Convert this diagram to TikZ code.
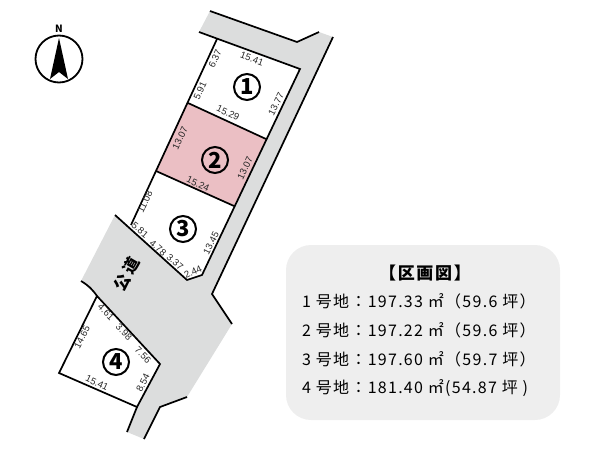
\documentclass[tikz,border=0pt]{standalone}
\usepackage{fontspec}
\setmainfont{Noto Sans CJK JP}
\newfontfamily\dimfont{Liberation Sans}
\definecolor{roadgray}{HTML}{DCDDDD}
\definecolor{lotpink}{HTML}{EBBFC4}
\definecolor{panelgray}{HTML}{EEEEEE}
\tikzset{
  dimlabel/.style={font=\dimfont\fontsize{9.5}{10}\selectfont,inner sep=0pt,text=black!85},
  lotnumber/.style={draw,circle,line width=2pt,minimum size=26pt,inner sep=0pt,font=\fontsize{22}{23}\selectfont\bfseries},
  areatext/.style={anchor=west,inner sep=0pt,font=\fontsize{16}{18}\selectfont\addfontfeature{LetterSpace=8}},
  boundary/.style={draw,line width=1.7pt}
}
\begin{document}
\begin{tikzpicture}[x=1pt,y=-1pt]
\useasboundingbox (0,0) rectangle (600,450);

\coordinate (r1) at (210,11);
\coordinate (r2) at (297,42);
\coordinate (r3) at (319,32);
\coordinate (r4) at (333,37);
\coordinate (r5) at (212,294);
\coordinate (r6) at (232,324);
\coordinate (r7) at (187,397);
\coordinate (r8) at (160,407);
\coordinate (r9) at (144,439);
\coordinate (r10) at (127,432);
\coordinate (r11) at (81,281);
\coordinate (r12) at (115,215);
\coordinate (r13) at (199,32);

\coordinate (a) at (217,39);
\coordinate (b) at (300,69);
\coordinate (c) at (266,139);
\coordinate (d) at (188,103);
\coordinate (e) at (234,206);
\coordinate (f) at (156,171);
\coordinate (g) at (202,275);
\coordinate (h) at (187,280);
\coordinate (i) at (131,225);
\coordinate (j) at (97,296);
\coordinate (k) at (160,364);
\coordinate (l) at (137,407);
\coordinate (m) at (59,373);

\path[fill=roadgray] (r1) -- (r2) -- (r3) -- (r4) -- (r5) -- (r6) -- (r7) -- (r8) -- (r9) -- (r10) -- (l) -- (k) -- (j) -- (r11) -- (r12) -- (h) -- (g) -- (b) -- (r13) -- cycle;
\path[fill=lotpink] (d) -- (c) -- (e) -- (f) -- cycle;

\path[boundary] (r1) -- (r2) -- (r3);
\path[boundary] (r4) -- (r5) -- (r6);
\path[boundary] (r7) -- (r8) -- (r9);
\path[boundary] (r10) -- (l);
\path[boundary] (r13) -- (b) -- (g) -- (h) -- (r12);
\path[boundary] (a) -- (i);
\path[boundary] (d) -- (c);
\path[boundary] (f) -- (e);
\path[boundary] (r11) to[bend left=12] (j);
\path[boundary] (j) -- (k) -- (l) -- (m) -- cycle;

\node[lotnumber] (lot1) at (247,87) {1};
\node[lotnumber] (lot2) at (215,160) {2};
\node[lotnumber] (lot3) at (183,229) {3};
\node[lotnumber] (lot4) at (116,362) {4};

\node[dimlabel,rotate=-20] (d1) at (252,59) {15.41};
\node[dimlabel,rotate=65] (d2) at (215,59) {6.37};
\node[dimlabel,rotate=65] (d3) at (200,91) {5.91};
\node[dimlabel,rotate=63] (d4) at (276,104) {13.77};
\node[dimlabel,rotate=-25] (d5) at (228,113) {15.29};
\node[dimlabel,rotate=65] (d6) at (180,138) {13.07};
\node[dimlabel,rotate=65] (d7) at (245,168) {13.07};
\node[dimlabel,rotate=-25] (d8) at (198,184) {15.24};
\node[dimlabel,rotate=65] (d9) at (145,202) {11.08};
\node[dimlabel,rotate=-40] (d10) at (140,230) {5.81};
\node[dimlabel,rotate=-40] (d11) at (158,248) {4.78};
\node[dimlabel,rotate=-40] (d12) at (175,262) {3.37};
\node[dimlabel,rotate=25] (d13) at (193,272) {2.44};
\node[dimlabel,rotate=63] (d14) at (211,243) {13.45};
\node[dimlabel,rotate=-45] (d15) at (106,312) {4.61};
\node[dimlabel,rotate=-45] (d16) at (124,332) {3.98};
\node[dimlabel,rotate=-45] (d17) at (143,355) {7.56};
\node[dimlabel,rotate=63] (d18) at (143,383) {8.54};
\node[dimlabel,rotate=63] (d19) at (82,337) {14.65};
\node[dimlabel,rotate=-25] (d20) at (97,383) {15.41};

\node[rotate=60,inner sep=0pt,font=\fontsize{16}{17}\selectfont\bfseries] (road) at (127,274) {公\,道};

\node[draw,circle,line width=1.8pt,minimum size=47pt,inner sep=0pt] (compass) at (59,59) {};
\node[inner sep=0pt,font=\fontsize{10}{11}\selectfont\bfseries] (north) at (59,29) {N};
\path[fill=black] (59,38) -- (68,79) -- (59,72) -- (50,79) -- cycle;

\path[fill=panelgray,rounded corners=25pt] (286,245) rectangle (560,420);
\node[inner sep=0pt,font=\fontsize{17}{19}\selectfont\bfseries\addfontfeature{LetterSpace=10}] (title) at (425,273) {【区画図】};
\node[areatext] (area1) at (302,301) {1 号地：197.33 ㎡（59.6 坪）};
\node[areatext] (area2) at (302,330) {2 号地：197.22 ㎡（59.6 坪）};
\node[areatext] (area3) at (302,359) {3 号地：197.60 ㎡（59.7 坪）};
\node[areatext] (area4) at (302,388) {4 号地：181.40 ㎡(54.87 坪 )};
\end{tikzpicture}
\end{document}
